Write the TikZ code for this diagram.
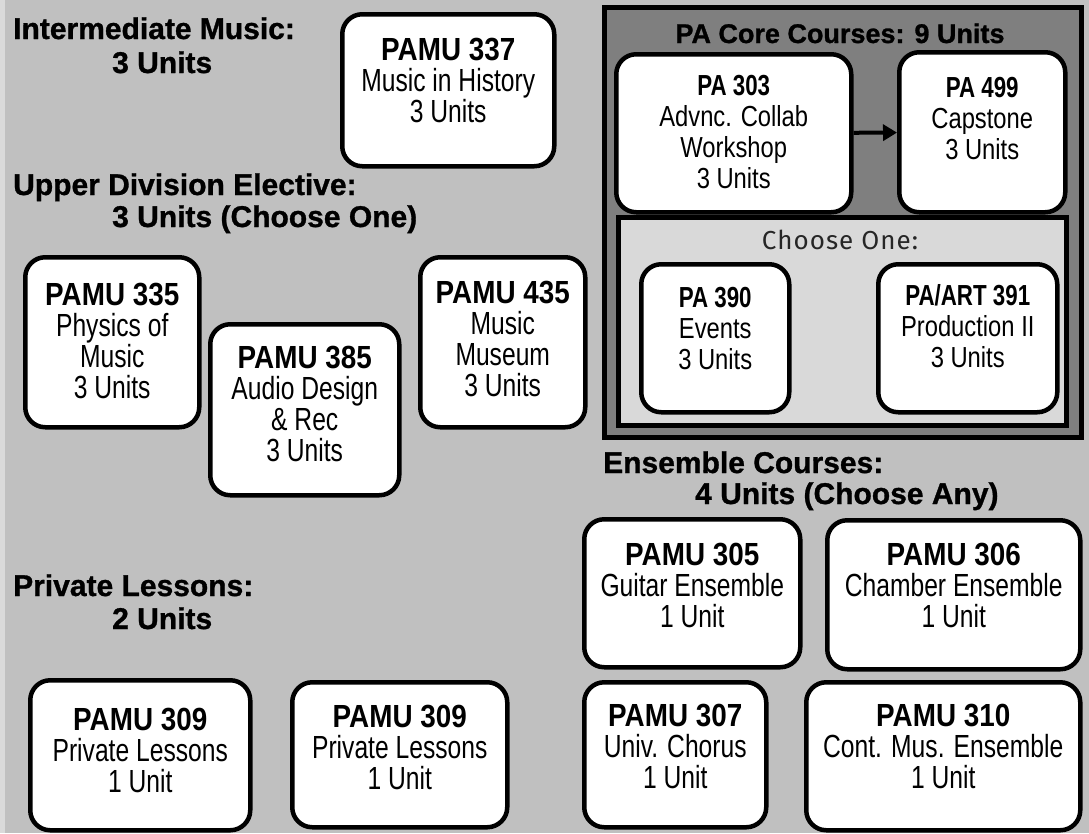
\documentclass[tikz,border=0pt]{standalone}
\usepackage{fontspec}
\setmainfont{Liberation Sans}
\newfontfamily\regf{Liberation Sans}[FakeStretch=0.77]
\newfontfamily\bldf{Liberation Sans Bold}[FakeStretch=0.87]
\newfontfamily\pregf{Liberation Sans}[FakeStretch=0.82]
\newfontfamily\pbldf{Liberation Sans Bold}[FakeStretch=0.77]
\newfontfamily\hdf{Liberation Sans Bold}[FakeBold=1]
\newfontfamily\chf{Fira Sans}[LetterSpace=4]
\usetikzlibrary{arrows.meta}
\definecolor{bgc}{HTML}{C0C0C0}
\definecolor{stripc}{HTML}{DADADA}
\definecolor{panelc}{HTML}{7F7F7F}
\definecolor{innerc}{HTML}{D9D9D9}
% width, height, font size, first baseline offset, lines
\newcommand\cbxt[5]{\parbox[c][#2][t]{#1}{\centering\fontsize{#3}{31pt}\selectfont\rule{0pt}{#4}#5}}
\tikzset{
  course/.style={draw=black, line width=4.5pt, fill=white, rounded corners=20pt, inner sep=0pt, anchor=north west},
  panel/.style={draw=black, line width=5pt, inner sep=0pt, anchor=north west},
  hd/.style={font=\hdf\fontsize{30}{33}\selectfont, inner sep=0pt, anchor=base west},
}
\begin{document}
\begin{tikzpicture}[x=1pt,y=-1pt]
\fill[bgc] (0,0) rectangle (1089,833);
\useasboundingbox (0,0) rectangle (1089,833);
\fill[stripc] (0,0) rectangle (5,833);

% headings
\node[hd] (h1a) at (13,39) {Intermediate Music:};
\node[hd] (h1b) at (112,73) {3 Units};
\node[hd] (h2a) at (13,195) {Upper Division Elective:};
\node[hd] (h2b) at (112,227) {3 Units (Choose One)};
\node[hd] (h3a) at (13,596) {Private Lessons:};
\node[hd] (h3b) at (112,629) {2 Units};
\node[hd] (h4a) at (603,473) {Ensemble Courses:};
\node[hd] (h4b) at (695,504) {4 Units (Choose Any)};

% PA core panel
\node[panel, fill=panelc, minimum width=477pt, minimum height=430pt] (core) at (602,5) {};
\node[font=\hdf\fontsize{27}{30}\selectfont, inner sep=0pt, anchor=base] (coret) at (840,43) {PA Core Courses: 9 Units};
\node[panel, fill=innerc, minimum width=448pt, minimum height=208pt] (chs) at (616,215) {};
\node[font=\chf\fontsize{26}{30}\selectfont, text=black!85, inner sep=0pt, anchor=base] (chst) at (840,249) {Choose One:};

% course boxes
\node[course] (p337) at (340,12) {\cbxt{212pt}{152pt}{32pt}{46.5pt}{{\bldf PAMU 337}\\{\regf Music in History}\\{\regf 3 Units}}};
\node[course] (p335) at (23,255) {\cbxt{174pt}{170pt}{32pt}{48pt}{{\bldf PAMU 335}\\{\regf Physics of}\\{\regf Music}\\{\regf 3 Units}}};
\node[course] (p385) at (208,322) {\cbxt{189pt}{171pt}{32pt}{44.5pt}{{\bldf PAMU 385}\\{\regf Audio Design}\\{\regf \& Rec}\\{\regf 3 Units}}};
\node[course] (p435) at (418,255) {\cbxt{165pt}{170pt}{32pt}{46.5pt}{{\bldf PAMU 435}\\{\regf Music}\\{\regf Museum}\\{\regf 3 Units}}};
\node[course] (p309a) at (28,678) {\cbxt{220pt}{150pt}{32pt}{50pt}{{\bldf PAMU 309}\\{\regf Private Lessons}\\{\regf 1 Unit}}};
\node[course] (p309b) at (290,680) {\cbxt{215pt}{145pt}{32pt}{45pt}{{\bldf PAMU 309}\\{\regf Private Lessons}\\{\regf 1 Unit}}};
\node[course] (p305) at (582,517) {\cbxt{216pt}{148pt}{32pt}{46.5pt}{{\bldf PAMU 305}\\{\regf Guitar Ensemble}\\{\regf 1 Unit}}};
\node[course] (p306) at (825,518) {\cbxt{253pt}{149pt}{32pt}{45.5pt}{{\bldf PAMU 306}\\{\regf Chamber Ensemble}\\{\regf 1 Unit}}};
\node[course] (p307) at (582,680) {\cbxt{182pt}{145pt}{32pt}{44.5pt}{{\bldf PAMU 307}\\{\regf Univ. Chorus}\\{\regf 1 Unit}}};
\node[course] (p310) at (804,680) {\cbxt{274pt}{148pt}{32pt}{44.5pt}{{\bldf PAMU 310}\\{\regf Cont. Mus. Ensemble}\\{\regf 1 Unit}}};
\node[course] (pa303) at (614,52) {\cbxt{235pt}{158pt}{29pt}{41.5pt}{{\pbldf PA 303}\\{\pregf Advnc. Collab}\\{\pregf Workshop}\\{\pregf 3 Units}}};
\node[course] (pa499) at (897,50) {\cbxt{166pt}{160pt}{29pt}{45.5pt}{{\pbldf PA 499}\\{\pregf Capstone}\\{\pregf 3 Units}}};
\node[course] (pa390) at (639,262) {\cbxt{148pt}{148pt}{29pt}{43.5pt}{{\pbldf PA 390}\\{\pregf Events}\\{\pregf 3 Units}}};
\node[course] (pa391) at (876,262) {\cbxt{179pt}{148pt}{29pt}{41.5pt}{{\pbldf PA/ART 391}\\{\pregf Production II}\\{\pregf 3 Units}}};

\draw[line width=4pt, -{Triangle[length=14pt,width=16pt]}] (pa303) -- (pa499);
\end{tikzpicture}
\end{document}
